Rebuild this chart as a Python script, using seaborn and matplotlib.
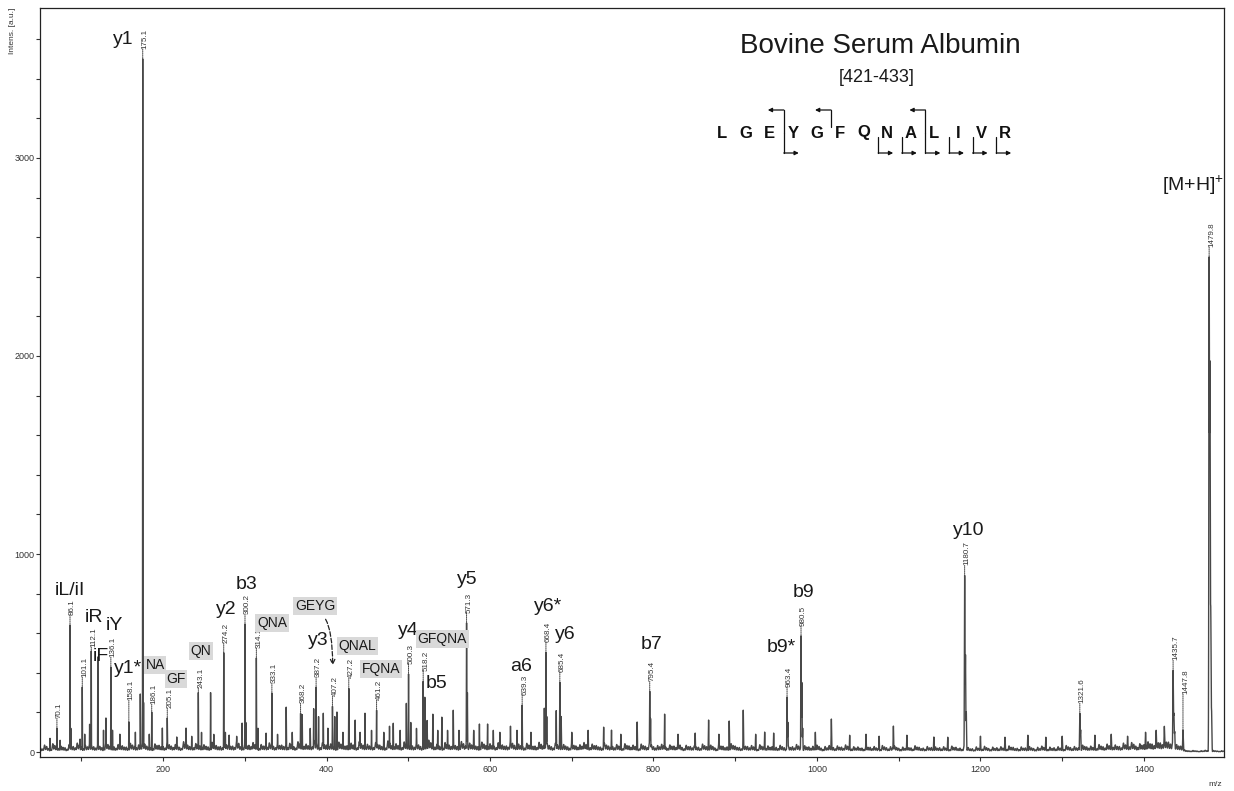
import numpy as np
import pandas as pd
import matplotlib
matplotlib.use('Agg')
import matplotlib.pyplot as plt
from matplotlib.ticker import MultipleLocator
from matplotlib.patches import FancyArrowPatch
import seaborn as sns

# peaks: m/z and intensity [a.u.]
peak_mz = [61.6, 70.1, 74.0, 86.1, 87.1, 98.4, 101.1, 104.1, 110.1, 112.1, 120.1, 127.1, 130.1,
           136.1, 138.1, 147.1, 158.1, 166.1, 172.1, 175.1, 176.1, 183.1, 186.1, 199.1, 205.1,
           216.7, 228.1, 235.0, 243.1, 247.0, 258.1, 262.0, 274.2, 276.2, 280.8, 290.0, 296.7,
           300.2, 301.2, 314.1, 316.1, 326.0, 333.1, 340.0, 350.6, 358.0, 368.2, 370.2, 380.0,
           384.2, 387.2, 390.2, 396.0, 401.6, 407.2, 410.0, 412.7, 420.0, 427.2, 435.0, 441.0,
           447.0, 455.0, 461.2, 470.0, 477.0, 481.6, 490.0, 497.6, 500.3, 503.0, 510.0, 518.2,
           520.2, 523.0, 530.0, 536.0, 541.0, 548.0, 555.0, 562.0, 571.3, 572.3, 580.0, 587.0,
           597.0, 604.0, 612.0, 625.0, 633.0, 639.3, 650.0, 666.4, 668.4, 669.4, 681.0, 685.4,
           687.0, 700.0, 720.0, 739.0, 748.6, 760.0, 780.0, 795.4, 796.4, 813.6, 830.0, 851.0,
           867.4, 880.0, 892.6, 909.8, 925.0, 936.0, 947.0, 963.4, 964.4, 980.5, 981.5, 982.5,
           998.0, 1017.6, 1040.0, 1060.0, 1076.0, 1093.5, 1110.0, 1143.0, 1160.0, 1180.7, 1181.7,
           1182.7, 1200.0, 1230.0, 1258.0, 1280.0, 1300.0, 1321.6, 1322.6, 1340.0, 1360.0, 1380.0,
           1402.0, 1415.0, 1425.0, 1435.7, 1436.7, 1437.7, 1447.8, 1479.8, 1480.8, 1481.8, 1482.8]
peak_int = [70, 121, 60, 641, 120, 66, 328, 90, 140, 510, 480, 110, 172,
            429, 110, 90, 152, 100, 293, 3500, 250, 90, 202, 121, 172,
            76, 121, 80, 300, 100, 300, 90, 505, 100, 86, 80, 146,
            651, 150, 475, 120, 96, 298, 90, 228, 100, 197, 190, 120,
            220, 330, 180, 197, 121, 232, 180, 202, 100, 323, 162, 100,
            197, 110, 212, 100, 131, 146, 110, 247, 394, 150, 120, 359,
            278, 160, 192, 110, 177, 110, 212, 110, 652, 300, 110, 142,
            142, 110, 100, 131, 110, 237, 100, 222, 505, 180, 210, 354,
            180, 100, 110, 126, 111, 90, 152, 308, 170, 192, 90, 96,
            162, 90, 157, 212, 90, 101, 96, 278, 150, 586, 350, 120,
            100, 167, 85, 90, 80, 131, 85, 76, 75, 889, 486,
            200, 80, 75, 85, 75, 80, 195, 110, 85, 90, 80,
            100, 110, 130, 409, 187, 100, 111, 2460, 1910, 690, 200]

# baseline grass, one value every 5 m/z starting at 50 ...
grass_start = 50
grass_step = 5
grass = [20, 35, 18, 42, 25, 30, 22, 38, 28, 45, 24, 33, 40, 27, 36, 22, 48, 30, 26, 38,
         32, 25, 44, 28, 36, 50, 30, 22, 41, 34, 27, 46, 30, 38, 24, 52, 35, 29, 43, 31,
         37, 26, 49, 33, 28, 45, 36, 30, 55, 27, 40, 34, 48, 25, 38, 31, 46, 29, 42, 35,
         30, 44, 27, 52, 36, 40, 33, 58, 29, 47, 35, 41, 26, 50, 38, 32, 45, 28, 53, 34,
         39, 30, 48, 35, 27, 56, 33, 42, 29, 51, 37, 31, 46, 28, 44, 60, 32, 39, 26, 48,
         35, 41, 28, 53, 30, 45, 38, 27, 50, 33, 42, 29, 47, 36, 31, 55, 34, 40, 27, 44,
         36, 30, 49, 32, 41, 27, 45, 34, 38, 26, 43, 31, 37, 48, 29, 40, 33, 25, 44, 30,
         28, 38, 24, 42, 31, 35, 22, 40, 29, 46, 27, 33, 39, 25, 36, 30, 44, 23, 34, 28,
         32, 24, 40, 27, 35, 21, 38, 29, 26, 42, 30, 23, 36, 28, 33, 20, 37, 25, 31, 27,
         24, 34, 22, 30, 27, 38, 21, 32, 26, 29, 35, 20, 28, 33, 23, 31, 25, 36, 22, 27,
         26, 20, 31, 24, 28, 18, 33, 22, 27, 30, 19, 25, 29, 21, 32, 24, 20, 28, 23, 26,
         22, 27, 19, 30, 24, 20, 28, 23, 17, 26, 21, 29, 18, 25, 22, 27, 20, 31, 24, 19,
         26, 21, 28, 18, 24, 30, 20, 25, 22, 27, 19, 33, 23, 28, 21, 35, 26, 30, 24, 38,
         27, 40, 31, 36, 28, 45, 33, 48, 30, 42, 37, 52, 40, 58, 46, 62, 50, 44, 38, 30,
         10, 6, 8, 5, 7, 9, 6, 8, 5, 7]
# ... and the spikes in between, starting at 52.5
grass_mid = [15, 28, 12, 33, 19, 24, 14, 30, 21, 36, 17, 26, 31, 20, 29, 16, 38, 23, 19, 30,
             25, 18, 35, 21, 29, 40, 23, 16, 33, 27, 20, 37, 23, 31, 18, 42, 28, 22, 34, 24,
             29, 19, 39, 26, 21, 36, 29, 23, 44, 20, 32, 27, 38, 18, 30, 24, 37, 22, 33, 28,
             23, 35, 20, 41, 29, 32, 26, 46, 22, 37, 28, 33, 19, 40, 30, 25, 36, 21, 42, 27,
             31, 23, 38, 28, 20, 44, 26, 33, 22, 40, 29, 24, 36, 21, 35, 47, 25, 31, 19, 38,
             28, 33, 21, 42, 23, 36, 30, 20, 40, 26, 33, 22, 37, 29, 24, 44, 27, 32, 20, 35,
             29, 23, 39, 25, 33, 20, 36, 27, 30, 19, 34, 24, 29, 38, 22, 32, 26, 18, 35, 23,
             21, 30, 17, 33, 24, 28, 15, 32, 22, 36, 20, 26, 31, 18, 29, 23, 35, 16, 27, 21,
             25, 17, 32, 20, 28, 14, 30, 22, 19, 33, 23, 16, 29, 21, 26, 13, 29, 18, 24, 20,
             17, 27, 15, 23, 20, 30, 14, 25, 19, 22, 28, 13, 21, 26, 16, 24, 18, 29, 15, 20,
             19, 13, 24, 17, 21, 11, 26, 15, 20, 23, 12, 18, 22, 14, 25, 17, 13, 21, 16, 19,
             15, 20, 12, 23, 17, 13, 21, 16, 10, 19, 14, 22, 11, 18, 15, 20, 13, 24, 17, 12,
             19, 14, 21, 11, 17, 23, 13, 18, 15, 20, 12, 26, 16, 21, 14, 28, 19, 23, 17, 30,
             20, 32, 24, 28, 21, 36, 26, 39, 23, 34, 29, 42, 32, 47, 37, 50, 40, 35, 30, 22,
             7, 4, 6, 3, 5, 7, 4, 6, 3, 5]

# peaks with a m/z label
labelled_mz = [70.1, 86.1, 101.1, 112.1, 136.1, 158.1, 175.1, 186.1, 205.1, 243.1, 274.2,
               300.2, 314.1, 333.1, 368.2, 387.2, 407.2, 427.2, 461.2, 500.3, 518.2, 571.3,
               639.3, 668.4, 685.4, 795.4, 963.4, 980.5, 1180.7, 1321.6, 1435.7, 1447.8, 1479.8]

# ion annotations and where their centre sits (m/z, intensity)
ion_text = ['y1', 'iL/iI', 'iR', 'iF', 'iY', 'y1*', 'y2', 'b3', 'y3', 'y4', 'b5', 'y5',
            'a6', 'y6*', 'y6', 'b7', 'b9*', 'b9', 'y10', '[M+H]$^{+}$']
ion_x = [151.0, 86.1, 115.5, 124.1, 140.0, 157.1, 277.1, 301.6, 389.8, 500.0, 534.3, 572.2,
         638.3, 671.4, 692.2, 797.5, 956.7, 983.6, 1185.7, 1460.0]
ion_y = [3596, 818, 677, 480, 641, 424, 722, 848, 561, 616, 348, 869,
         434, 737, 596, 545, 530, 808, 1121, 2864]

# internal fragments, grey boxes
frag_text = ['NA', 'GF', 'QN', 'QNA', 'GEYG', 'QNAL', 'FQNA', 'GFQNA']
frag_x = [190.2, 215.9, 246.5, 333.4, 386.1, 437.5, 466.9, 541.6]
frag_y = [439, 369, 510, 652, 737, 535, 419, 571]

sequence = list('LGEYGFQNALIVR')
b_cuts = [3, 7, 8, 9, 10, 11, 12]
y_cuts = [3, 5, 9]

W, H = 1234, 791

def fxy(px, py):
    return (px / W, 1 - py / H)

sns.set_theme(style='white')
plt.rcParams['font.family'] = ['Liberation Sans', 'DejaVu Sans']
plt.rcParams['mathtext.fontset'] = 'custom'
plt.rcParams['mathtext.rm'] = 'Liberation Sans'
plt.rcParams['mathtext.default'] = 'regular'

# build the profile from the peak list, noise underneath
mz = np.arange(49.5, 1498, 0.04)
signal = np.zeros_like(mz)
for m, h in zip(peak_mz, peak_int):
    s = 0.12 + 0.00016 * m
    signal += h * np.exp(-0.5 * ((mz - m) / s) ** 2)
noise = np.zeros_like(mz)
grass_mz = grass_start + grass_step * np.arange(len(grass))
for m, h in zip(grass_mz, grass):
    noise += h * np.exp(-0.5 * ((mz - m) / 0.7) ** 2)
for m, h in zip(grass_mz + grass_step / 2, grass_mid):
    noise += h * np.exp(-0.5 * ((mz - m) / 0.7) ** 2)
inten = np.maximum(signal, noise)
df = pd.DataFrame({'mz': mz, 'intensity': inten})

fig = plt.figure(figsize=(W / 100, H / 100), dpi=100)
ax = fig.add_axes([40 / W, 1 - 757 / H, 1184 / W, 749 / H])
sns.lineplot(data=df, x='mz', y='intensity', ax=ax, color='#484848', lw=1.0,
             estimator=None, errorbar=None)

ax.set_xlim(49.4, 1498)
ax.set_ylim(-25, 3757)
ax.set_xlabel('')
ax.set_ylabel('')
ax.set_xticks(range(200, 1401, 200))
ax.xaxis.set_minor_locator(MultipleLocator(100))
ax.set_yticks([0, 1000, 2000, 3000])
ax.yaxis.set_minor_locator(MultipleLocator(200))
ax.tick_params(axis='both', which='both', direction='out', length=3, width=0.8,
               color='#333333', labelsize=6.5, labelcolor='#333333')
ax.tick_params(axis='x', which='both', bottom=True, top=False, pad=3)
ax.tick_params(axis='y', which='both', left=True, right=False, pad=1)
for sp in ax.spines.values():
    sp.set_color('#222222')
    sp.set_linewidth(0.9)

fig.text(*fxy(12, 8), 'Intens. [a.u.]', rotation=90, ha='center', va='top',
         fontsize=6, color='#333333')
fig.text(*fxy(1215, 785), 'm/z', ha='center', va='center', fontsize=6, color='#333333')

# m/z labels with dotted leaders
lead_px = {112.1: 4, 158.1: 22, 186.1: 8, 243.1: 5, 1447.8: 36}
for m in labelled_mz:
    h = inten[np.abs(mz - m) < 0.6].max()
    lead = lead_px.get(m, 10)
    ax.annotate('', xy=(m, h), xytext=(0, lead), textcoords='offset pixels',
                arrowprops=dict(arrowstyle='-', linestyle=(0, (1, 1)), lw=0.7,
                                color='#444444', shrinkA=0, shrinkB=0))
    ax.annotate(f'{m:.1f}', xy=(m, h), xytext=(2.5, lead), textcoords='offset pixels',
                rotation=90, ha='center', va='bottom', fontsize=5.8, color='#333333')

for t, x, y in zip(ion_text, ion_x, ion_y):
    ax.text(x, y, t, ha='center', va='center', fontsize=14, color='#1a1a1a')

for t, x, y in zip(frag_text, frag_x, frag_y):
    ax.text(x, y, t, ha='center', va='center', fontsize=10, color='#1a1a1a',
            bbox=dict(boxstyle='square,pad=0.12', facecolor='#d9d9d9', edgecolor='none'))

# dashed arrow from GEYG down to the 407.2 peak
fig.add_artist(FancyArrowPatch(fxy(324, 617), fxy(332.7, 668), transform=fig.transFigure,
                               arrowstyle='->', mutation_scale=8, lw=0.9, linestyle='--',
                               color='#222222',
                               connectionstyle='angle3,angleA=-50,angleB=90'))

# title block
fig.text(*fxy(880, 46), 'Bovine Serum Albumin', ha='center', va='center', fontsize=20,
         color='#1a1a1a')
fig.text(*fxy(877, 78), '[421-433]', ha='center', va='center', fontsize=13, color='#1a1a1a')

# peptide sequence with fragment brackets
seq_x0, seq_dx = 722, 23.6
for i, aa in enumerate(sequence):
    fig.text(*fxy(seq_x0 + seq_dx * i, 133), aa, ha='center', va='center', fontsize=12,
             fontweight='bold', color='#111111')
for k in sorted(set(b_cuts) | set(y_cuts)):
    x = seq_x0 + seq_dx * k - 9
    both = k in b_cuts and k in y_cuts
    if k in y_cuts:
        bottom = 133 if both else 127
        fig.add_artist(plt.Line2D(*zip(fxy(x, 110), fxy(x, bottom)), transform=fig.transFigure,
                                  color='#111111', lw=0.9))
        fig.add_artist(FancyArrowPatch(fxy(x, 110), fxy(x - 16, 110), transform=fig.transFigure,
                                       arrowstyle='-|>', mutation_scale=6, lw=0.9,
                                       color='#111111', shrinkA=0, shrinkB=0))
    if k in b_cuts:
        top = 133 if both else 137
        fig.add_artist(plt.Line2D(*zip(fxy(x, top), fxy(x, 153)), transform=fig.transFigure,
                                  color='#111111', lw=0.9))
        fig.add_artist(FancyArrowPatch(fxy(x, 153), fxy(x + 15, 153), transform=fig.transFigure,
                                       arrowstyle='-|>', mutation_scale=6, lw=0.9,
                                       color='#111111', shrinkA=0, shrinkB=0))

fig.savefig('out.png', dpi=100)
